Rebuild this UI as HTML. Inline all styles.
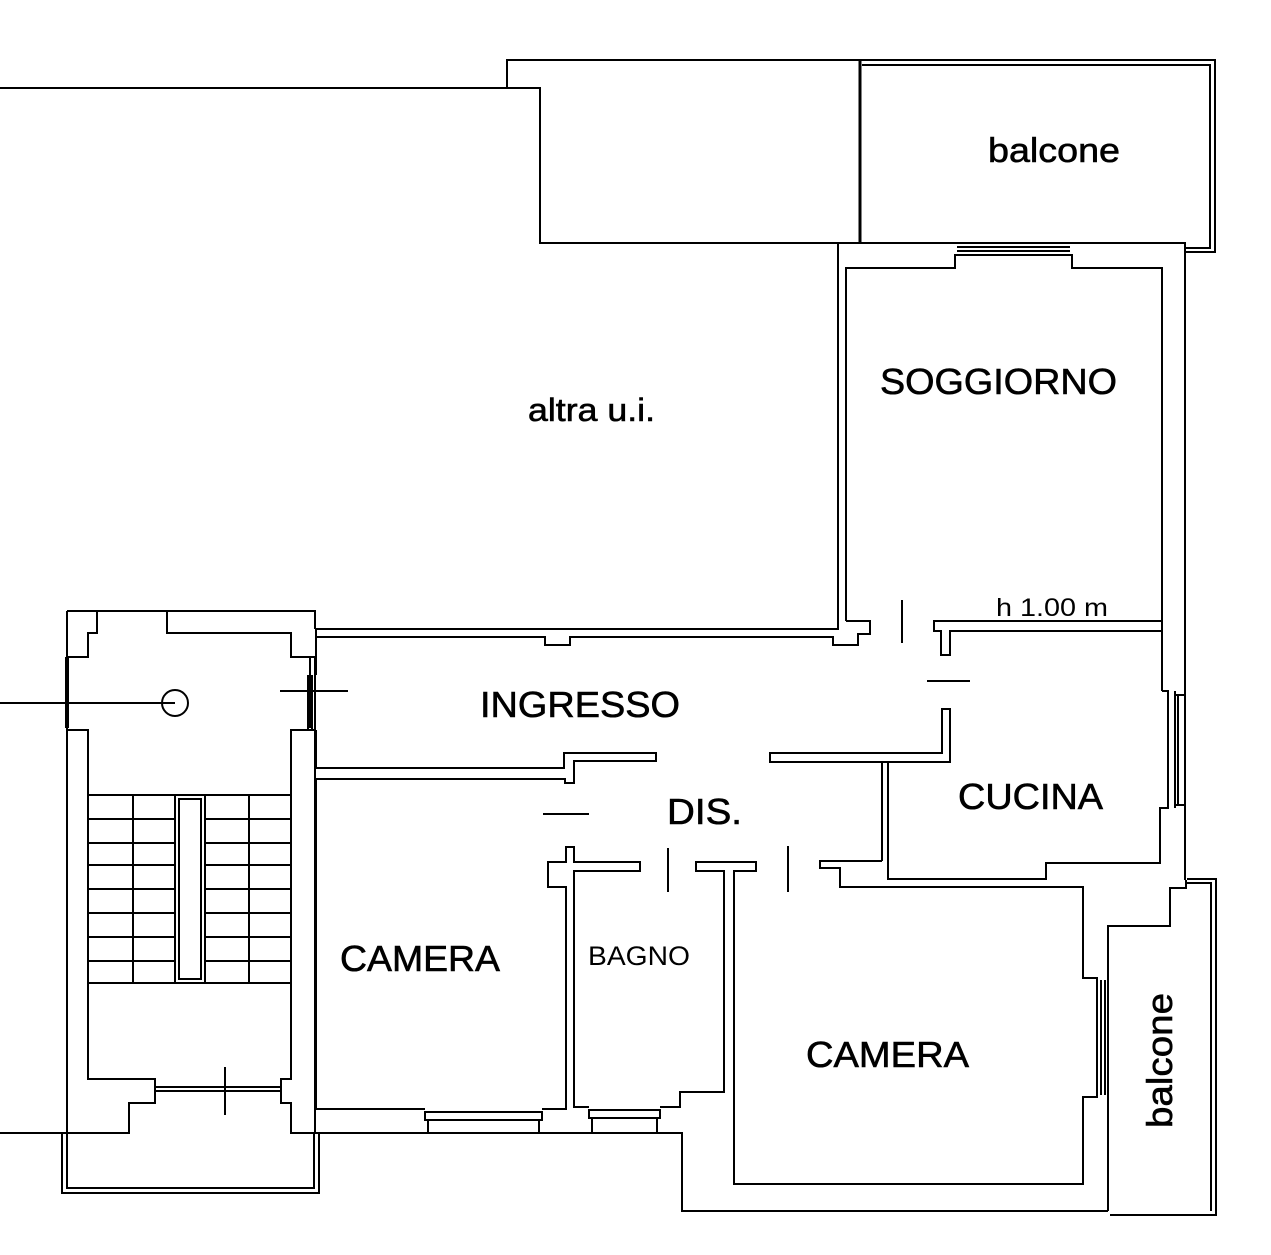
<!DOCTYPE html>
<html><head><meta charset="utf-8"><style>
html,body{margin:0;padding:0;background:#fff;}
svg{display:block;}
text{font-family:"Liberation Sans",sans-serif;fill:#000;}
</style></head><body>
<svg width="1271" height="1255" viewBox="0 0 1271 1255" xmlns="http://www.w3.org/2000/svg">
<g fill="none" stroke="#000" stroke-width="2">
<polyline points="0,88 540,88 540,243 1185,243 1185,880"/>
<polyline points="507,88 507,60 1215,60 1215,252 1186,252"/>
<polyline points="862,65 1210,65 1210,248 1186,248"/>
<line x1="860" y1="60" x2="860" y2="243" stroke-width="3"/>
<polyline points="838,243 838,629 316,629"/>
<polyline points="846,621 846,268 955,268 955,255 1072,255 1072,268 1162,268 1162,691"/>
<line x1="957" y1="247" x2="1070" y2="247"/>
<line x1="957" y1="251" x2="1070" y2="251"/>
<polyline points="846,621 870,621 870,634 858,634 858,645 833,645 833,637 570,637 570,645 545,645 545,637 316,637"/>
<line x1="902" y1="600" x2="902" y2="643"/>
<polyline points="967,621 934,621 934,631 941,631 941,655 950,655 950,631 967,631"/>
<line x1="967" y1="621" x2="1162" y2="621"/>
<line x1="967" y1="631" x2="1162" y2="631"/>
<line x1="927" y1="681" x2="970" y2="681"/>
<polyline points="1162,691 1168,691 1168,808 1160,808 1160,863 1046,863 1046,879 888,879 888,762 770,762 770,753 942,753 942,709 950,709 950,762 888,762"/>
<line x1="1175" y1="691" x2="1175" y2="808"/>
<line x1="1178" y1="695" x2="1178" y2="805"/>
<line x1="1175" y1="695" x2="1185" y2="695"/>
<line x1="1175" y1="805" x2="1185" y2="805"/>
<line x1="882" y1="762" x2="882" y2="861"/>
<polyline points="882,861 820,861 820,868 840,868 840,887 1083,887 1083,978 1097,978 1097,1097 1083,1097 1083,1184 734,1184 734,871 756,871 756,862 696,862 696,871 724,871 724,1092 680,1092 680,1107 660,1107"/>
<line x1="1101" y1="980" x2="1101" y2="1095"/>
<line x1="1105" y1="980" x2="1105" y2="1095"/>
<polyline points="316,629 316,675"/><polyline points="316,730 316,768 564,768 564,753 656,753 656,761 574,761 574,783 565,783 565,779 316,779 316,1109 425,1109"/>
<line x1="308" y1="675" x2="308" y2="730"/><line x1="312" y1="675" x2="312" y2="730"/>
<line x1="668" y1="848" x2="668" y2="892"/>
<line x1="788" y1="846" x2="788" y2="892"/>
<line x1="543" y1="814" x2="589" y2="814"/>
<polyline points="542,1109 566,1109 566,887 548,887 548,862 566,862 566,847 574,847 574,862 640,862 640,871 574,871 574,1107 589,1107"/>
<rect x="425" y="1112" width="117" height="8"/>
<rect x="428" y="1120" width="111" height="13"/>
<rect x="589" y="1110" width="71" height="8"/>
<rect x="592" y="1118" width="65" height="15"/>
<polyline points="315,1133 682,1133 682,1211 1108,1211"/>
<polyline points="1186,880 1186,888 1170,888 1170,926 1108,926 1108,1211"/>
<polyline points="1187,879 1216,879 1216,1215 1110,1215"/>
<polyline points="1187,883 1211,883 1211,1211"/>
<polyline points="67,611 315,611 315,629"/>
<line x1="67" y1="611" x2="67" y2="1133"/>
<line x1="67" y1="657" x2="67" y2="728" stroke-width="4"/>
<line x1="315" y1="728" x2="315" y2="1133"/>
<line x1="310" y1="657" x2="310" y2="728"/><line x1="315" y1="657" x2="315" y2="728"/>
<polyline points="97,611 97,633 88,633 88,657 67,657"/>
<polyline points="67,730 88,730 88,1079 155,1079 155,1103 129,1103 129,1133 0,1133"/>
<polyline points="167,611 167,633 291,633 291,657 315,657"/>
<polyline points="315,730 291,730 291,1079 281,1079 281,1103 291,1103 291,1133 315,1133"/>
<line x1="155" y1="1087" x2="281" y2="1087"/><line x1="155" y1="1091" x2="281" y2="1091"/>
<line x1="225" y1="1067" x2="225" y2="1115"/>
<circle cx="175" cy="703" r="13"/>
<line x1="0" y1="703" x2="175" y2="703"/>
<line x1="280" y1="691" x2="348" y2="691"/>
<g>
<line x1="88" y1="795" x2="291" y2="795"/><line x1="88" y1="819" x2="291" y2="819"/>
<line x1="88" y1="843" x2="291" y2="843"/><line x1="88" y1="865" x2="291" y2="865"/>
<line x1="88" y1="889" x2="291" y2="889"/><line x1="88" y1="913" x2="291" y2="913"/>
<line x1="88" y1="937" x2="291" y2="937"/><line x1="88" y1="961" x2="291" y2="961"/>
<line x1="88" y1="983" x2="291" y2="983"/>
<line x1="133" y1="795" x2="133" y2="983"/><line x1="249" y1="795" x2="249" y2="983"/>
</g>
<rect x="175" y="795" width="30" height="188" fill="#fff"/>
<rect x="179" y="799" width="22" height="180"/>
<polyline points="62,1133 62,1193 319,1193 319,1133"/>
<polyline points="67,1133 67,1188 314,1188 314,1133"/>
</g>
<g font-size="36" stroke="#000" stroke-width="0.6" lengthAdjust="spacingAndGlyphs">
<text x="528" y="421" font-size="32" textLength="127" lengthAdjust="spacingAndGlyphs">altra u.i.</text>
<text x="988" y="162" font-size="34" textLength="132" lengthAdjust="spacingAndGlyphs">balcone</text>
<text x="880" y="394" textLength="237" lengthAdjust="spacingAndGlyphs">SOGGIORNO</text>
<text x="480" y="717" textLength="200" lengthAdjust="spacingAndGlyphs">INGRESSO</text>
<text x="667" y="824" textLength="75" lengthAdjust="spacingAndGlyphs">DIS.</text>
<text x="958" y="809" textLength="145" lengthAdjust="spacingAndGlyphs">CUCINA</text>
<text x="340" y="971" textLength="160" lengthAdjust="spacingAndGlyphs">CAMERA</text>
<text x="588" y="965" font-size="27" stroke-width="0" textLength="102" lengthAdjust="spacingAndGlyphs">BAGNO</text>
<text x="806" y="1067" textLength="163" lengthAdjust="spacingAndGlyphs">CAMERA</text>
<text x="996" y="616" font-size="25" stroke-width="0" textLength="112" lengthAdjust="spacingAndGlyphs">h 1.00 m</text>
<text transform="translate(1172,1128) rotate(-90)" textLength="135" lengthAdjust="spacingAndGlyphs">balcone</text>
</g>
</svg>
</body></html>
